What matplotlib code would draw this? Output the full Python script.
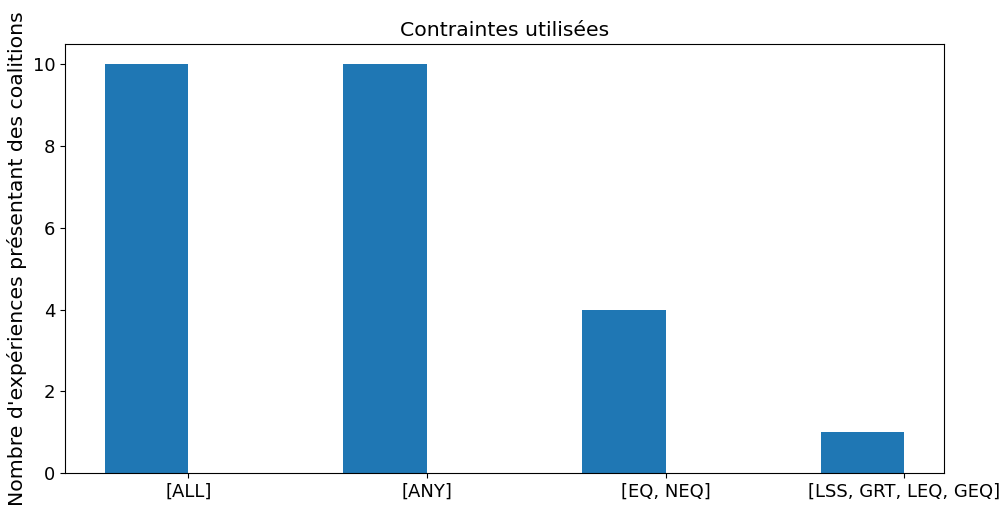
import matplotlib
matplotlib.use("Agg")
import matplotlib.pyplot as plt
import numpy as np

categories = ["[ALL]", "[ANY]", "[EQ, NEQ]", "[LSS, GRT, LEQ, GEQ]"]
values = [10, 10, 4, 1]

fig = plt.figure(figsize=(10.06, 5.09), dpi=100)
ax = fig.add_axes([65/1006, 1-473/509, (944-65)/1006, (473-44)/509])
x = np.arange(len(categories))
width = 0.35
ax.bar(x, values, width, color="#1f77b4")
ax.set_xticks(x + width / 2)
ax.set_xticklabels(categories, fontsize=13)
ax.tick_params(axis="y", labelsize=13)
ax.set_title("Contraintes utilisées", fontsize=14.7)
ax.set_ylabel("Nombre d'expériences présentant des coalitions", fontsize=14.7)
fig.savefig("out.png", dpi=100)
